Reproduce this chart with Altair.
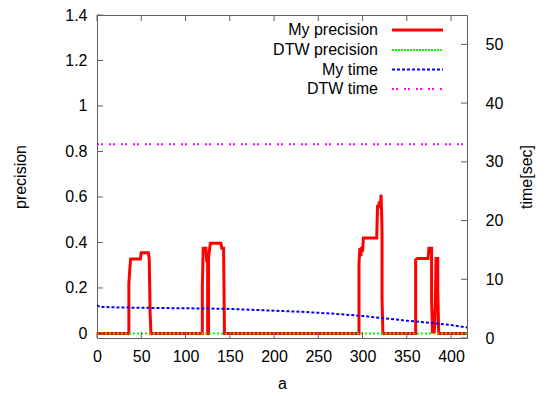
import altair as alt
import pandas as pd

# ---------------- data ----------------
a_my_prec = [0, 36, 36, 37, 38, 49, 50, 58, 59, 60, 61,
             119, 119, 120, 123, 124, 125, 125, 126, 126, 128, 140, 141, 143, 144,
             296, 296, 297, 298, 299, 300, 301, 316, 317, 318, 319, 320, 321, 322, 322, 323,
             360, 360, 362, 374, 375, 378, 378, 379, 380, 381, 382, 383, 385, 385, 386, 418]
my_prec = [0, 0, 0.22, 0.28, 0.327, 0.327, 0.355, 0.355, 0.33, 0.09, 0,
           0, 0.205, 0.375, 0.375, 0.32, 0.32, 0, 0, 0.33, 0.397, 0.397, 0.375, 0.375, 0,
           0, 0.308, 0.375, 0.34, 0.38, 0.36, 0.42, 0.42, 0.566, 0.55, 0.58, 0.56, 0.61, 0.456, 0.153, 0,
           0, 0.323, 0.33, 0.33, 0.375, 0.375, 0.15, 0, 0.1, 0, 0.08, 0.33, 0.33, 0.2, 0, 0]

a_my_time = [0, 3, 25, 50, 75, 100, 125, 150, 175, 200, 225, 250, 275, 300, 325, 350, 375, 400, 418]
my_time = [5.6, 5.3, 5.2, 5.15, 5.1, 5.06, 5.02, 4.95, 4.8, 4.65, 4.5, 4.3, 4.05, 3.75, 3.35, 2.95, 2.6, 2.2, 1.8]

a_dtw = [0, 418]
dtw_prec = [0, 0]
dtw_time = [33, 33]

x_ticks = [0, 50, 100, 150, 200, 250, 300, 350, 400]
prec_ticks = [0, 0.2, 0.4, 0.6, 0.8, 1.0, 1.2, 1.4]
time_ticks = [0, 10, 20, 30, 40, 50]

legend_names = ["My precision", "DTW precision", "My time", "DTW time"]
legend_colors = ["#ff0000", "#00ff00", "#0000ff", "#ff00ff"]

# ---------------- style ----------------
W, H = 370, 323
FONT = "Liberation Sans"
FRAME = "#606060"
FS = 16

xscale = alt.Scale(domain=[0, 418], nice=False, zero=False)
pscale = alt.Scale(domain=[-0.02, 1.4], nice=False, zero=False)
tscale = alt.Scale(domain=[0, 55], nice=False, zero=False)

common = dict(domain=False, ticks=False, grid=False, labelFont=FONT, labelFontSize=FS,
              labelColor="black", labelOverlap=False, labelFlush=False,
              titleFont=FONT, titleFontSize=FS, titleFontWeight="normal", titleColor="black")

x_axis = alt.Axis(values=x_ticks, title="a", labelPadding=10, format="d",
                  titleX=W / 2, titleY=45, titleAlign="center", titleBaseline="middle", **common)
p_axis = alt.Axis(values=prec_ticks, title="precision", orient="left", labelPadding=10, format="~g",
                  titleAngle=270, titleX=-77, titleY=H / 2, titleAlign="center",
                  titleBaseline="middle", **common)
t_axis = alt.Axis(values=time_ticks, title="time[sec]", orient="right", labelPadding=18, format="d",
                  titleAngle=270, titleX=59, titleY=H / 2, titleAlign="center",
                  titleBaseline="middle", **common)

df_my_prec = pd.DataFrame({"a": a_my_prec, "v": my_prec, "i": range(len(a_my_prec))})
df_dtw_prec = pd.DataFrame({"a": a_dtw, "v": dtw_prec, "i": range(len(a_dtw))})
df_my_time = pd.DataFrame({"a": a_my_time, "v": my_time, "i": range(len(a_my_time))})
df_dtw_time = pd.DataFrame({"a": a_dtw, "v": dtw_time, "i": range(len(a_dtw))})


def series(df, color, width, dash, yscale, yaxis):
    kw = dict(color=color, strokeWidth=width, clip=True)
    if dash:
        kw["strokeDash"] = dash
    return alt.Chart(df).mark_line(**kw).encode(
        x=alt.X("a:Q", scale=xscale, axis=x_axis),
        y=alt.Y("v:Q", scale=yscale, axis=yaxis),
        order=alt.Order("i:Q"),
    )


red = series(df_my_prec, legend_colors[0], 3, None, pscale, p_axis)
green = series(df_dtw_prec, legend_colors[1], 2, [2, 2], pscale, p_axis)
blue = series(df_my_time, legend_colors[2], 2, [3, 2], tscale, t_axis)
magenta = series(df_dtw_time, legend_colors[3], 2, [2, 2, 2, 6], tscale, t_axis)

ptick = alt.Chart(pd.DataFrame({"v": prec_ticks})).mark_rule(color=FRAME, strokeWidth=1).encode(
    y=alt.Y("v:Q", scale=pscale, axis=p_axis), x=alt.value(0), x2=alt.value(6))
ttick = alt.Chart(pd.DataFrame({"v": time_ticks})).mark_rule(color=FRAME, strokeWidth=1).encode(
    y=alt.Y("v:Q", scale=tscale, axis=t_axis), x=alt.value(W - 6), x2=alt.value(W))

xtick_b = alt.Chart(pd.DataFrame({"a": x_ticks})).mark_rule(color=FRAME, strokeWidth=1).encode(
    x=alt.X("a:Q", scale=xscale, axis=x_axis), y=alt.value(H), y2=alt.value(H - 6))
xtick_t = alt.Chart(pd.DataFrame({"a": x_ticks})).mark_rule(color=FRAME, strokeWidth=1).encode(
    x=alt.X("a:Q", scale=xscale, axis=x_axis), y=alt.value(0), y2=alt.value(6))

left = alt.layer(red, green, ptick)
right = alt.layer(blue, magenta, ttick)

# legend (gnuplot-style: text right-aligned, sample line to the right)
one = pd.DataFrame({"k": [0]})
legend_layers = []
dashes = [None, [2, 1], [3, 2], [2, 2, 2, 6]]
widths = [3, 2, 2, 2]
ys = [15, 35, 54.5, 74]
for name, col, dash, w, yy in zip(legend_names, legend_colors, dashes, widths, ys):
    legend_layers.append(
        alt.Chart(one).mark_text(text=name, align="right", baseline="middle", font=FONT,
                                 fontSize=FS, color="black").encode(x=alt.value(281), y=alt.value(yy)))
    kw = dict(color=col, strokeWidth=w)
    if dash:
        kw["strokeDash"] = dash
    legend_layers.append(
        alt.Chart(one).mark_rule(**kw).encode(x=alt.value(295), x2=alt.value(346), y=alt.value(yy)))

chart = alt.layer(left, right, xtick_b, xtick_t, *legend_layers).resolve_scale(
    y="independent"
).properties(
    width=W, height=H,
    padding={"left": 97, "top": 15, "right": 547 - 97 - W, "bottom": 396 - 15 - H},
    autosize=alt.AutoSizeParams(type="none"),
).configure_view(stroke=FRAME, strokeWidth=1)

chart.save("out.html", embed_options={"renderer": "svg", "actions": False})
